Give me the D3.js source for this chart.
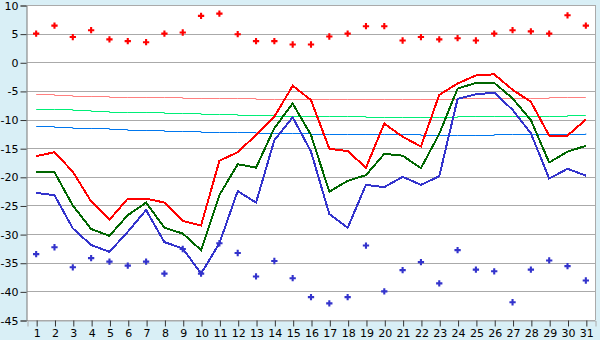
<!DOCTYPE html>
<html>
<head>
<meta charset="utf-8">
<script src="https://cdn.jsdelivr.net/npm/d3@7"></script>
<style>
  body { margin: 0; background: #d9eff6; }
  svg { display: block; }
  .tick text { font-family: "DejaVu Sans", Verdana, sans-serif; font-size: 11px; fill: #000; }
</style>
</head>
<body>
<svg id="chart" width="600" height="340"></svg>
<script>
const days = d3.range(1, 32)
const yTicks = [10, 5, 0, -5, -10, -15, -20, -25, -30, -35, -40, -45]

// daily extremes (points)
const dayMax = [5.0, 6.4, 4.4, 5.6, 4.0, 3.7, 3.5, 5.0, 5.2, 8.1, 8.5, 4.9, 3.7, 3.7, 3.1, 3.1,
  4.5, 5.0, 6.3, 6.3, 3.8, 4.4, 4.0, 4.2, 3.8, 5.0, 5.6, 5.4, 5.0, 8.2, 6.4]
const dayMin = [-33.5, -32.3, -35.8, -34.2, -34.8, -35.5, -34.8, -36.9, -32.6, -36.9, -31.6, -33.3,
  -37.4, -34.7, -37.7, -41.0, -42.1, -41.0, -32.0, -40.0, -36.3, -34.9, -38.6, -32.8, -36.2,
  -36.5, -41.9, -36.2, -34.6, -35.6, -38.1]

// daily series (thick lines)
const tMax = [-16.4, -15.7, -19.1, -24.3, -27.5, -23.8, -23.8, -24.5, -27.7, -28.5, -17.2, -15.7,
  -12.7, -9.5, -4.1, -6.6, -15.1, -15.5, -18.4, -10.7, -13.0, -14.7, -5.7, -3.7, -2.3, -2.1,
  -4.8, -6.9, -12.8, -12.8, -10.0]
const tMean = [-19.2, -19.2, -25.0, -29.1, -30.3, -26.7, -24.5, -28.9, -29.9, -32.8, -23.2, -17.8,
  -18.4, -11.5, -7.2, -12.7, -22.6, -20.7, -19.7, -16.0, -16.3, -18.5, -12.5, -4.6, -3.6, -3.6,
  -6.3, -10.1, -17.5, -15.6, -14.6]
const tMin = [-22.8, -23.2, -29.0, -31.9, -33.1, -29.6, -25.8, -31.4, -32.5, -36.9, -31.6, -22.5,
  -24.5, -13.6, -9.6, -15.6, -26.5, -28.9, -21.4, -21.8, -20.0, -21.4, -19.9, -6.4, -5.6, -5.3,
  -8.3, -12.4, -20.3, -18.6, -19.8]

// normals (thin lines)
const normMax = [-5.6, -5.8, -5.9, -5.95, -6.0, -6.1, -6.1, -6.15, -6.3, -6.3, -6.3, -6.3, -6.35,
  -6.45, -6.45, -6.45, -6.45, -6.45, -6.45, -6.45, -6.45, -6.45, -6.45, -6.3, -6.3, -6.3, -6.3,
  -6.3, -6.15, -6.1, -6.1]
const normMean = [-8.15, -8.2, -8.35, -8.5, -8.6, -8.7, -8.75, -8.85, -8.9, -9.0, -9.05, -9.15,
  -9.25, -9.35, -9.4, -9.4, -9.4, -9.45, -9.5, -9.55, -9.55, -9.55, -9.5, -9.45, -9.4, -9.4,
  -9.4, -9.35, -9.35, -9.25, -9.2]
const normMin = [-11.2, -11.35, -11.5, -11.55, -11.65, -11.75, -11.85, -11.95, -12.05, -12.1,
  -12.2, -12.25, -12.35, -12.35, -12.4, -12.45, -12.45, -12.5, -12.55, -12.6, -12.6, -12.7,
  -12.7, -12.7, -12.65, -12.55, -12.55, -12.5, -12.5, -12.45, -12.35]

const svg = d3.select('#chart')
const m = { left: 27, right: 595, top: 5, bottom: 320 }

const x = d3.scaleLinear().domain([0.5, 31.5]).range([m.left, m.right])
const y = d3.scaleLinear().domain([-45, 10]).range([m.bottom, m.top])

svg.append('rect').attr('x', m.left).attr('y', m.top)
  .attr('width', m.right - m.left).attr('height', m.bottom - m.top).attr('fill', '#fff')

// grid
svg.append('g').selectAll('line').data(yTicks).enter().append('line')
  .attr('x1', m.left).attr('x2', m.right)
  .attr('y1', d => Math.round(y(d)) + 0.5).attr('y2', d => Math.round(y(d)) + 0.5)
  .attr('stroke', '#aaa')

svg.append('line').attr('x1', m.right + 0.5).attr('x2', m.right + 0.5)
  .attr('y1', m.top).attr('y2', m.bottom).attr('stroke', '#aaa')

const yAxis = svg.append('g').attr('transform', `translate(${m.left - 0.5},0.5)`)
  .call(d3.axisLeft(y).tickValues(yTicks).tickSize(6).tickPadding(2).tickFormat(d => String(d)))
yAxis.select('.domain').attr('stroke', '#777')
yAxis.selectAll('.tick line').attr('stroke', '#333')

const xAxis = svg.append('g').attr('transform', `translate(0.5,${m.bottom + 0.5})`)
  .call(d3.axisBottom(x).tickValues(days).tickSize(6).tickPadding(3).tickFormat(d3.format('d')))
xAxis.select('.domain').attr('stroke', '#aaa')
xAxis.selectAll('.tick line').attr('stroke', '#333')

const line = d3.line().x((d, i) => x(days[i])).y(d => y(d))

const norms = [[normMax, '#ff8080'], [normMean, '#00ee77'], [normMin, '#0077ee']]
norms.forEach(([vals, c]) => {
  svg.append('path').datum(vals).attr('d', d3.line().x((d, i) => x(days[i]))
    .y(d => Math.round(y(d)) + 0.5).curve(d3.curveStepAfter))
    .attr('fill', 'none').attr('stroke', c).attr('stroke-width', 1)
})

const series = [[tMax, '#ff0000'], [tMean, '#006600'], [tMin, '#3333cc']]
series.forEach(([vals, c]) => {
  svg.append('path').datum(vals).attr('d', line)
    .attr('fill', 'none').attr('stroke', c).attr('stroke-width', 2)
    .attr('shape-rendering', 'crispEdges')
})

const cross = d3.symbol().type(d3.symbolCross).size(22)
const pts = [[dayMax, '#ff0000'], [dayMin, '#3333cc']]
pts.forEach(([vals, c]) => {
  svg.append('g').selectAll('path').data(vals).enter().append('path')
    .attr('d', cross)
    .attr('transform', (d, i) => `translate(${x(days[i])},${y(d)})`)
    .attr('fill', c)
})
</script>
</body>
</html>
